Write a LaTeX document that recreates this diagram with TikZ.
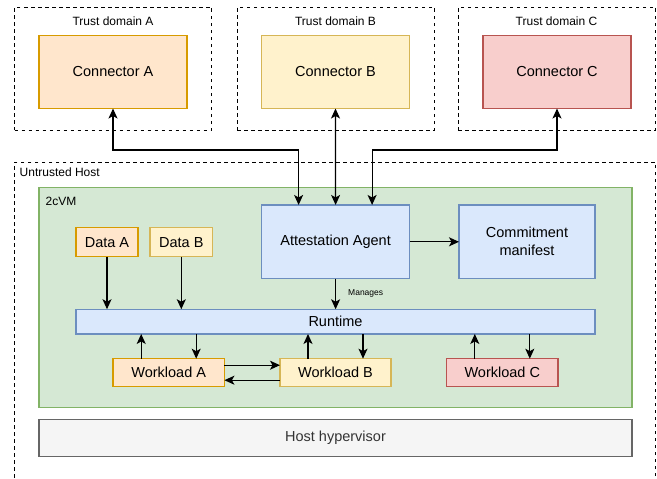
\documentclass[tikz,border=0pt]{standalone}
\usepackage{fontspec}
\setmainfont{Liberation Sans}
\usetikzlibrary{arrows.meta}
\definecolor{orF}{HTML}{FFE6CC}\definecolor{orD}{HTML}{D79B00}
\definecolor{yeF}{HTML}{FFF2CC}\definecolor{yeD}{HTML}{D6B656}
\definecolor{reF}{HTML}{F8CECC}\definecolor{reD}{HTML}{B85450}
\definecolor{blF}{HTML}{DAE8FC}\definecolor{blD}{HTML}{6C8EBF}
\definecolor{grF}{HTML}{D5E8D4}\definecolor{grD}{HTML}{82B366}
\definecolor{gyF}{HTML}{F5F5F5}\definecolor{gyD}{HTML}{666666}
\definecolor{gyT}{HTML}{333333}
\tikzset{
  box/.style={draw, line width=1.2pt, inner sep=0pt, outer sep=0pt, align=center, font=\fontsize{14.5}{18}\selectfont},
  dbox/.style={draw, line width=1pt, dash pattern=on 3.5pt off 3.5pt, inner sep=0pt, outer sep=0pt},
  orbox/.style={box, fill=orF, draw=orD},
  yebox/.style={box, fill=yeF, draw=yeD},
  rebox/.style={box, fill=reF, draw=reD},
  blbox/.style={box, fill=blF, draw=blD},
  lbl/.style={font=\fontsize{12}{14}\selectfont, inner sep=0pt},
  tip/.tip={Stealth[length=10pt,width=9pt,inset=2.5pt]},
  arr/.style={line width=1.2pt, -tip},
  biarr/.style={line width=1.2pt, tip-tip},
}
\begin{document}
\begin{tikzpicture}[x=1pt,y=-1pt]
\useasboundingbox (0,0) rectangle (657,479);
\clip (0,0) rectangle (657,479);
\fill[white] (0,0) rectangle (657,479);
% trust domains
\node[dbox, minimum width=197pt, minimum height=123pt] (tda) at (113,68.5) {};
\node[dbox, minimum width=197pt, minimum height=123pt] (tdb) at (335.5,68.5) {};
\node[dbox, minimum width=197pt, minimum height=123pt] (tdc) at (556.5,68.5) {};
\node[lbl] (tdal) at (113,21) {Trust domain A};
\node[lbl] (tdbl) at (335.5,21) {Trust domain B};
\node[lbl] (tdcl) at (556.5,21) {Trust domain C};
\node[orbox, minimum width=148pt, minimum height=73pt] (ca) at (113,72) {Connector A};
\node[yebox, minimum width=148pt, minimum height=73pt] (cb) at (335.5,72) {Connector B};
\node[rebox, minimum width=148pt, minimum height=73pt] (cc) at (557,72) {Connector C};
% untrusted host
\node[dbox, minimum width=641pt, minimum height=338pt] (uh) at (335,331) {};
\node[lbl, anchor=west] (uhl) at (19.5,172) {Untrusted Host};
% 2cVM
\node[box, fill=grF, draw=grD, minimum width=593pt, minimum height=220pt] (vm) at (335.5,297.7) {};
\node[lbl, anchor=west] (vml) at (45.5,201.5) {2cVM};
\node[blbox, minimum width=148pt, minimum height=73.7pt] (aa) at (335.6,241.8) {Attestation Agent};
\node[blbox, minimum width=136pt, minimum height=73.7pt] (cm) at (527,241.8) {Commitment\\manifest};
\node[orbox, minimum width=62pt, minimum height=29pt] (da) at (107,242.2) {Data A};
\node[yebox, minimum width=62.6pt, minimum height=29pt] (db) at (181.3,242.2) {Data B};
\node[blbox, minimum width=519pt, minimum height=24.7pt] (rt) at (335.5,321.6) {Runtime};
\node[orbox, minimum width=111.4pt, minimum height=28pt] (wa) at (168.7,372.7) {Workload A};
\node[yebox, minimum width=111pt, minimum height=28pt] (wb) at (335.5,372.7) {Workload B};
\node[rebox, minimum width=111.3pt, minimum height=28pt] (wc) at (502.3,372.7) {Workload C};
\node[box, fill=gyF, draw=gyD, text=gyT, minimum width=593pt, minimum height=37.4pt] (hh) at (335.5,438) {Host hypervisor};
% connectors top
\coordinate (bend) at (0,150);
\coordinate (aaA) at ([xshift=-37pt]aa.north);
\coordinate (aaC) at ([xshift=36.5pt]aa.north);
\draw[biarr] (ca.south) |- (aaA |- bend) -- (aaA);
\draw[biarr] (cb.south) -- (aa.north);
\draw[biarr] (cc.south) |- (aaC |- bend) -- (aaC);
\draw[arr] (aa.east) -- (cm.west);
\draw[arr] (aa.south) -- (rt.north -| aa.south) node[pos=0.5, anchor=west, xshift=12pt, font=\fontsize{8.5}{10}\selectfont, inner sep=0pt] (mg) {Manages};
\draw[arr] (da.south) -- (rt.north -| da.south);
\draw[arr] (db.south) -- (rt.north -| db.south);
% workloads
\foreach \w in {wa,wb,wc}{
  \draw[arr] ([xshift=-27.5pt]\w.north) -- ([xshift=-27.5pt]\w.north |- rt.south);
  \draw[arr] ([xshift=27.5pt]\w.north |- rt.south) -- ([xshift=27.5pt]\w.north);
}
\draw[arr] ([yshift=7.5pt]wa.east) -- ([yshift=7.5pt]wb.west);
\draw[arr] ([yshift=-7.5pt]wb.west) -- ([yshift=-7.5pt]wa.east);
\end{tikzpicture}
\end{document}
